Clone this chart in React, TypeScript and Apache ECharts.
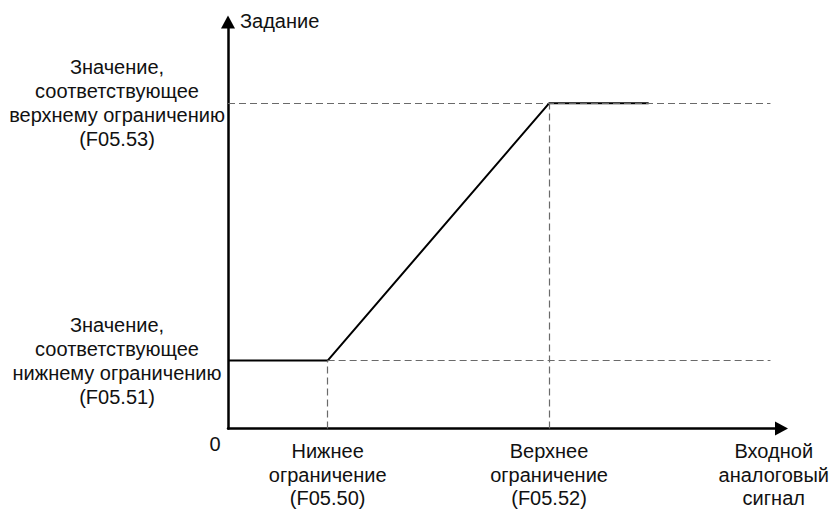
import React, { useEffect, useRef } from "react";
import * as echarts from "echarts";

// Piecewise characteristic: input signal (x) -> setpoint (y), arbitrary units 0..100
const inputSignal = [0, 18, 58, 76];
const setpoint = [16.7, 16.7, 80, 80];

// Dashed guide ends on the x axis
const guideEndX = 98;

const xTickValues = [18, 58, 98.6];
const xTickLabels = [
  "Нижнее\nограничение\n(F05.50)",
  "Верхнее\nограничение\n(F05.52)",
  "Входной\nаналоговый\nсигнал",
];

const yTickValues = [16.7, 80];
const yTickLabels = [
  "Значение,\nсоответствующее\nнижнему ограничению\n(F05.51)",
  "Значение,\nсоответствующее\nверхнему ограничению\n(F05.53)",
];

const yAxisName = "Задание";
const originLabel = "0";

const FONT = '"Liberation Sans", Arial, sans-serif';
const TEXT = "#111";

export default function App() {
  const ref = useRef<HTMLDivElement>(null);

  useEffect(() => {
    if (!ref.current) return;
    const chart = echarts.init(ref.current, null, { renderer: "svg" });

    const lowX = inputSignal[1];
    const lowY = setpoint[1];
    const highX = inputSignal[2];
    const highY = setpoint[2];

    const axisLine = {
      show: true,
      symbol: ["none", "triangle"],
      symbolSize: [14, 13],
      lineStyle: { color: "#000", width: 2.5 },
    };

    chart.setOption({
      animation: false,
      backgroundColor: "#fff",
      grid: { left: 228, right: 50, top: 22, bottom: 80 },
      xAxis: {
        type: "value",
        min: 0,
        max: 100,
        axisLine,
        axisTick: { show: false },
        splitLine: { show: false },
        axisLabel: {
          customValues: xTickValues,
          formatter: (v: number) => {
            const i = xTickValues.findIndex((t) => Math.abs(t - v) < 1e-6);
            return i >= 0 ? xTickLabels[i] : "";
          },
          margin: 11,
          fontFamily: FONT,
          fontSize: 20,
          lineHeight: 23.5,
          color: TEXT,
          align: "center",
          verticalAlign: "top",
        },
      },
      yAxis: {
        type: "value",
        min: 0,
        max: 100,
        name: yAxisName,
        nameLocation: "end",
        nameGap: 1,
        nameTextStyle: {
          fontFamily: FONT,
          fontSize: 20,
          color: TEXT,
          align: "left",
          verticalAlign: "middle",
          padding: [0, 0, 0, 12],
        },
        axisLine,
        axisTick: { show: false },
        splitLine: { show: false },
        axisLabel: {
          customValues: yTickValues,
          formatter: (v: number) => {
            const i = yTickValues.findIndex((t) => Math.abs(t - v) < 1e-6);
            return i >= 0 ? yTickLabels[i] : "";
          },
          margin: 111,
          fontFamily: FONT,
          fontSize: 20,
          lineHeight: 24,
          color: TEXT,
          align: "center",
          verticalAlign: "middle",
        },
      },
      graphic: [
        {
          type: "text",
          x: 215,
          y: 444,
          style: {
            text: originLabel,
            font: `20px ${FONT}`,
            fill: TEXT,
            align: "center",
            verticalAlign: "middle",
          },
        },
      ],
      series: [
        {
          type: "line",
          data: inputSignal.map((x, i) => [x, setpoint[i]]),
          symbol: "none",
          lineStyle: { color: "#000", width: 2 },
          z: 3,
          markLine: {
            silent: true,
            symbol: ["none", "none"],
            label: { show: false },
            lineStyle: { color: "#6a6a6a", width: 1.2, type: [7, 4] },
            data: [
              [{ coord: [0, highY] }, { coord: [guideEndX, highY] }],
              [{ coord: [lowX, lowY] }, { coord: [guideEndX, lowY] }],
              [{ coord: [lowX, 0] }, { coord: [lowX, lowY] }],
              [{ coord: [highX, 0] }, { coord: [highX, highY] }],
            ],
          },
        },
      ],
    });

    return () => chart.dispose();
  }, []);

  return (
    <div
      ref={ref}
      style={{ position: "fixed", left: 0, top: 0, width: 832, height: 510, background: "#fff" }}
    />
  );
}
